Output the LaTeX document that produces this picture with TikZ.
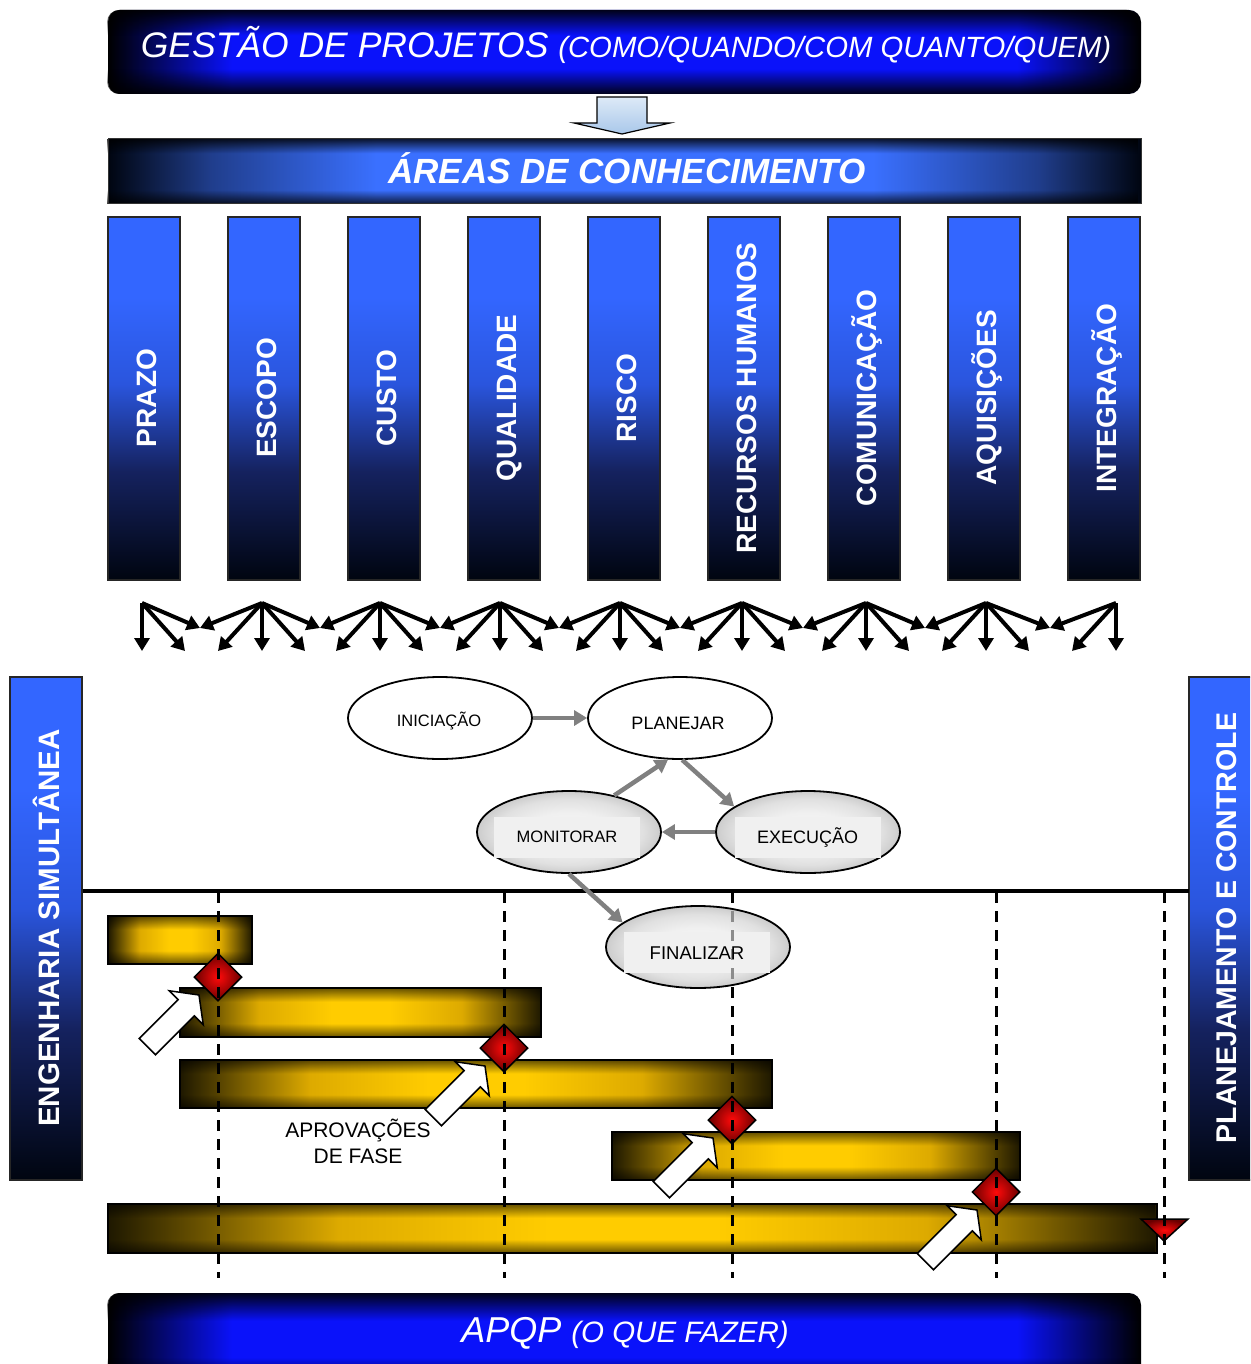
\documentclass[tikz,border=0pt]{standalone}
\usepackage{fontspec}
\setmainfont{Liberation Sans}
\usetikzlibrary{shapes.geometric,arrows.meta,fadings,calc}

% colours
\definecolor{colTop}{HTML}{3366FF}
\definecolor{colMid}{HTML}{2A55DD}
\definecolor{colLow}{HTML}{15225F}
\definecolor{colBot}{HTML}{000510}
\definecolor{deepBlue}{HTML}{0A12FA}
\definecolor{areaBlue}{HTML}{3A70FF}
\definecolor{goldC}{HTML}{FFCC00}
\definecolor{goldM}{HTML}{DDAA00}
\definecolor{goldE}{HTML}{1E1800}
\definecolor{redC}{HTML}{FF0A0A}
\definecolor{redE}{HTML}{6A0000}
\definecolor{arrGray}{HTML}{808080}
\definecolor{capFill}{HTML}{F0F0F0}
\definecolor{blkArrTop}{HTML}{DDEAF7}
\definecolor{blkArrBot}{HTML}{A9C7EA}

% shadings (a path is fitted to the 25bp..75bp band)
\pgfdeclareverticalshading{colshade}{100bp}{color(0bp)=(colBot); color(25bp)=(colBot); color(40bp)=(colLow); color(52bp)=(colMid); color(64bp)=(colTop); color(100bp)=(colTop)}
\pgfdeclarehorizontalshading{bannershade}{100bp}{color(0bp)=(black); color(25bp)=(black); color(31bp)=(deepBlue); color(69bp)=(deepBlue); color(75bp)=(black); color(100bp)=(black)}
\pgfdeclarehorizontalshading{areashade}{100bp}{color(0bp)=(colBot); color(25bp)=(colBot); color(30bp)=(areaBlue!55!black); color(38bp)=(areaBlue); color(62bp)=(areaBlue); color(70bp)=(areaBlue!55!black); color(75bp)=(colBot); color(100bp)=(colBot)}
\pgfdeclarehorizontalshading{goldshade}{100bp}{color(0bp)=(goldE); color(25bp)=(goldE); color(36bp)=(goldM); color(46bp)=(goldC); color(54bp)=(goldC); color(64bp)=(goldM); color(75bp)=(goldE); color(100bp)=(goldE)}
\pgfdeclareradialshading{ellshade}{\pgfpoint{0bp}{0bp}}{color(0bp)=(white!97!black); color(12bp)=(white!94!black); color(20bp)=(white!88!black); color(25bp)=(white!80!black); color(50bp)=(white!80!black)}

% fadings: darken the upper and lower edges
\pgfdeclareverticalshading{edgedark}{100bp}{color(0bp)=(black!10); color(25bp)=(black!10); color(40bp)=(black); color(60bp)=(black); color(75bp)=(black!10); color(100bp)=(black!10)}
\pgfdeclarefading{edgedarkfade}{\pgfuseshading{edgedark}}
\pgfdeclareverticalshading{areadark}{100bp}{color(0bp)=(black!20); color(25bp)=(black!20); color(36bp)=(black); color(64bp)=(black); color(75bp)=(black!20); color(100bp)=(black!20)}
\pgfdeclarefading{areadarkfade}{\pgfuseshading{areadark}}
\pgfdeclareverticalshading{bardark}{100bp}{color(0bp)=(black!40); color(25bp)=(black!40); color(39bp)=(black); color(61bp)=(black); color(75bp)=(black!40); color(100bp)=(black!40)}
\pgfdeclarefading{bardarkfade}{\pgfuseshading{bardark}}

\tikzset{
  bannertxt/.style={text=white, inner sep=0pt},
  coltxt/.style={text=white, inner sep=0pt, rotate=90, font=\fontsize{28}{30}\selectfont\bfseries, text height=20pt, text depth=0pt},
  sidetxt/.style={text=white, inner sep=0pt, rotate=90, font=\fontsize{28.5}{30}\selectfont\bfseries, text height=20.4pt, text depth=0pt},
  fanarrow/.style={draw=black, line width=4pt, -{Triangle[length=13pt,width=15pt]}},
  gate/.style={diamond, minimum width=48pt, minimum height=48pt, inner sep=0pt, draw=black, line width=1.5pt, inner color=redC, outer color=redE},
  ell/.style={ellipse, draw=black, line width=1.8pt, minimum width=184pt, minimum height=82pt, inner sep=0pt},
  grayell/.style={ell, shade, shading=ellshade},
  capbox/.style={minimum width=146pt, minimum height=41pt, inner sep=0pt, fill=capFill},
  etxt/.style={inner sep=0pt, text depth=0pt},
  earr/.style={draw=arrGray, line width=4.5pt, -{Triangle[length=13pt,width=15pt]}},
  phaseline/.style={line width=3pt, dash pattern=on 11pt off 8pt},
  approval/.pic={\draw[fill=white, line width=1.5pt, line join=miter]
     (0,0) -- (-18,-24) -- (-18,-11.5) -- (-73,-11.5) -- (-73,11.5) -- (-18,11.5) -- (-18,24) -- cycle;}
}

\begin{document}
\begin{tikzpicture}[x=1pt,y=-1pt]
\useasboundingbox (0,0) rectangle (1250,1364);
\clip (0,0) rectangle (1250,1364);

% ---------- top banner ----------
\shade[shading=bannershade, rounded corners=12pt] (108,10) rectangle (1141,94);
\fill[black, path fading=edgedarkfade, rounded corners=12pt] (108,10) rectangle (1141,94);
\node[bannertxt, anchor=base] (gp) at (626,58)
  {\fontsize{35.5}{40}\selectfont\itshape GESTÃO DE PROJETOS {\fontsize{29.3}{34}\selectfont (COMO/QUANDO/COM QUANTO/QUEM)}};

% block arrow
\shadedraw[top color=blkArrTop, bottom color=blkArrBot, draw=black, line width=1.2pt, line join=miter]
  (597,97) -- (647,97) -- (647,123) -- (670,123) -- (622,134) -- (574,123) -- (597,123) -- cycle;

% ---------- knowledge areas banner ----------
\shade[shading=areashade] (108,139) rectangle (1141,204);
\fill[black, path fading=areadarkfade] (108,139) rectangle (1141,204);
\draw[black!80, line width=1pt] (108,139) rectangle (1141,204);
\node[bannertxt, anchor=base] (ac) at (627,184)
  {\fontsize{35}{40}\selectfont\bfseries\itshape ÁREAS DE CONHECIMENTO};

% ---------- columns ----------
\foreach \i/\lab in {0/PRAZO,1/ESCOPO,2/CUSTO,3/QUALIDADE,4/RISCO,5/RECURSOS HUMANOS,6/COMUNICAÇÃO,7/AQUISIÇÕES,8/INTEGRAÇÃO} {
  \pgfmathsetmacro\cx{144+120*\i}
  \shadedraw[shading=colshade, draw=black!85, line width=1.5pt] (\cx-36,217) rectangle (\cx+36,580);
  \node[coltxt] (col\i) at (\cx+2,398) {\lab};
}

% ---------- fan of arrows ----------
\foreach \x [count=\k] in {142,262,380,500,620,742,866,986,1116} {
  \coordinate (t\k) at (\x,603);
  \coordinate (v\k) at (\x,651);
  \coordinate (l\k) at (\x-44,651);
  \coordinate (r\k) at (\x+43,651);
}
\foreach \x [count=\k] in {200,320,440,559,680,803,925,1050} {
  \coordinate (m\k) at (\x,628);
}
\foreach \k in {1,...,8} {
  \pgfmathtruncatemacro\n{\k+1}
  \draw[fanarrow] (t\k) -- (m\k);
  \draw[fanarrow] (t\n) -- (m\k);
  \draw[fanarrow] (t\k) -- (r\k);
  \draw[fanarrow] (t\n) -- (l\n);
}
\foreach \k in {1,...,9} { \draw[fanarrow] (t\k) -- (v\k); }

% ---------- side bars ----------
\shadedraw[shading=colshade, draw=black!85, line width=1.5pt] (10,677) rectangle (82,1180);
\node[sidetxt, font=\fontsize{29.5}{31}\selectfont\bfseries, text height=21.1pt] (es) at (49,928) {ENGENHARIA SIMULTÂNEA};
\shadedraw[shading=colshade, draw=black!85, line width=1.5pt] (1189,677) rectangle (1262,1180);
\node[sidetxt] (pc) at (1226,928) {PLANEJAMENTO E CONTROLE};

% separator line
\coordinate (hl) at (83,891);
\coordinate (hr) at (1189,891);
\draw[line width=3.5pt] (hl) -- (hr);

% ---------- phase bars ----------
\foreach \xa/\ya/\xb/\yb in {108/916/252/964, 180/988/541/1037, 180/1060/772/1108, 612/1132/1020/1180, 108/1204/1157/1253} {
  \shade[shading=goldshade] (\xa,\ya) rectangle (\xb,\yb);
  \fill[black, path fading=bardarkfade] (\xa,\ya) rectangle (\xb,\yb);
  \draw[line width=1.8pt] (\xa,\ya) rectangle (\xb,\yb);
}

% phase gates
\node[gate] (g1) at (218,977) {};
\node[gate] (g2) at (504,1048) {};
\node[gate] (g3) at (732,1120) {};
\node[gate] (g4) at (996,1192) {};
\shadedraw[inner color=redC, outer color=redE, draw=black, line width=1.5pt, line join=miter]
  (1141,1219) -- (1188,1219) -- (1164,1241) -- cycle;

% phase boundaries
\foreach \x [count=\k] in {218,504,732,996,1164} {
  \coordinate (dt\k) at (\x,892);
  \coordinate (db\k) at (\x,1278);
  \draw[phaseline] (dt\k) -- (db\k);
}

% approval arrows
\pic[rotate=45] at ($(g1)+(-19,18)$) {approval};
\pic[rotate=45] at ($(g2)+(-19,18)$) {approval};
\pic[rotate=45] at ($(g3)+(-19,18)$) {approval};
\pic[rotate=45] at ($(g4)+(-19,18)$) {approval};

\node[font=\fontsize{21}{26}\selectfont, align=center, inner sep=0pt] (apf) at (358,1141) {APROVAÇÕES\\DE FASE};

% ---------- process cycle ----------
\node[ell, fill=white] (ini) at (440,718) {};
\node[ell, fill=white] (plan) at (680,718) {};
\node[grayell] (mon) at (569,832) {};
\node[grayell] (exe) at (808,832) {};
\node[grayell] (fin) at (698,947) {};

\node[capbox] (monb) at (567,837) {};
\node[capbox] (exeb) at (808,837.5) {};
\node[capbox] (finb) at (697,952) {};

\begin{scope}
  \clip (fin.center) ellipse [x radius=90pt, y radius=39pt];
  \draw[phaseline, draw=black!45] (dt3) -- (db3);
\end{scope}

\node[etxt, font=\fontsize{16.5}{18}\selectfont, text height=11.8pt] (iniT) at (439,721) {INICIAÇÃO};
\node[etxt, font=\fontsize{18}{20}\selectfont, text height=12.9pt] (planT) at (678,723.5) {PLANEJAR};
\node[etxt, font=\fontsize{16.5}{18}\selectfont, text height=11.8pt] (monT) at (567,836.5) {MONITORAR};
\node[etxt, font=\fontsize{18}{20}\selectfont, text height=12.9pt] (exeT) at (807.5,837.5) {EXECUÇÃO};
\node[etxt, font=\fontsize{18.5}{20}\selectfont, text height=13.2pt] (finT) at (697,952.5) {FINALIZAR};

\draw[earr] (ini.east) -- (plan.west);
\draw[earr] (mon.39) -- (plan.254);
\draw[earr] (plan.273) -- (exe.161);
\draw[earr] (exe.west) -- (mon.east);
\draw[earr] (mon.south) -- (fin.162);

% ---------- bottom banner ----------
\shade[shading=bannershade, rounded corners=12pt] (108,1293) rectangle (1141,1385);
\fill[black, path fading=edgedarkfade, rounded corners=12pt] (108,1293) rectangle (1141,1385);
\node[bannertxt, anchor=base] (ap) at (625,1342)
  {\fontsize{36}{40}\selectfont\itshape APQP {\fontsize{29.5}{34}\selectfont (O QUE FAZER)}};
\end{tikzpicture}
\end{document}
